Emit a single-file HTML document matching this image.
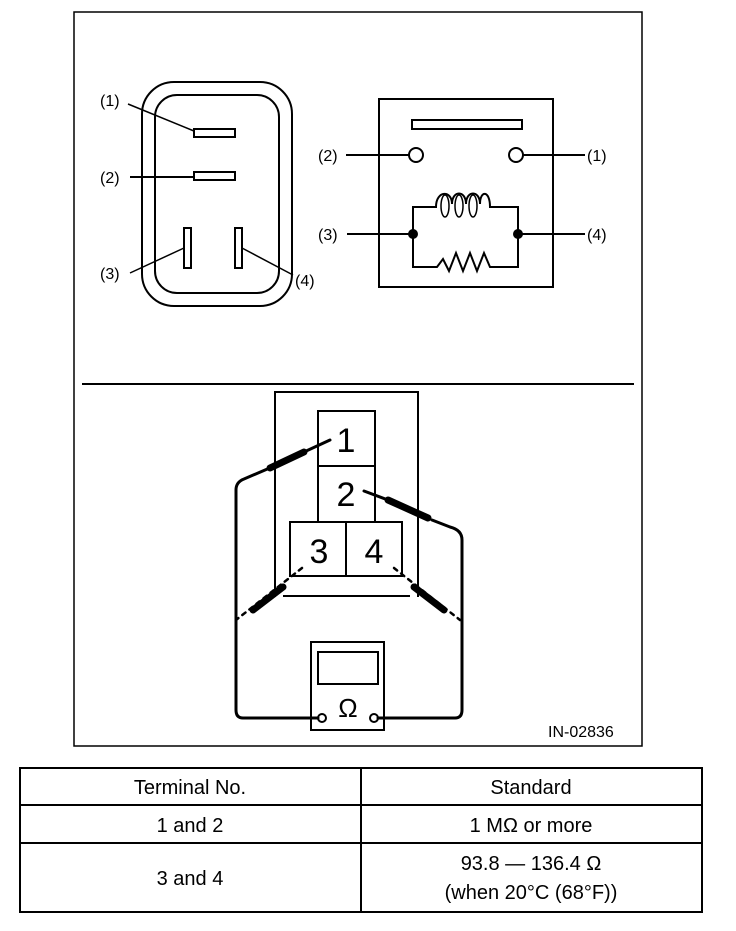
<!DOCTYPE html>
<html><head><style>
body{margin:0;background:#fff;}
svg text{font-family:"Liberation Sans",Arial,sans-serif;fill:#000;}
</style></head><body>
<svg width="736" height="926" viewBox="0 0 736 926" xmlns="http://www.w3.org/2000/svg">
<g fill="none" stroke="#000" stroke-width="2">
<rect x="74" y="12" width="568" height="734" stroke-width="1.5"/>
<line x1="82" y1="384" x2="634" y2="384"/>
<!-- connector -->
<rect x="142" y="82" width="150" height="224" rx="32"/>
<rect x="155" y="95" width="124" height="198" rx="22"/>
<rect x="194" y="129" width="41" height="8"/>
<rect x="194" y="172" width="41" height="8"/>
<rect x="184" y="228" width="7" height="40"/>
<rect x="235" y="228" width="7" height="40"/>
<line x1="128" y1="104" x2="194" y2="131" stroke-width="1.5"/>
<line x1="130" y1="177" x2="194" y2="177"/>
<line x1="130" y1="273" x2="184" y2="248" stroke-width="1.5"/>
<line x1="293" y1="275" x2="242" y2="248" stroke-width="1.5"/>
<!-- relay -->
<rect x="379" y="99" width="174" height="188"/>
<rect x="412" y="120" width="110" height="9"/>
<circle cx="416" cy="155" r="7"/>
<circle cx="516" cy="155" r="7"/>
<line x1="346" y1="155" x2="409" y2="155"/>
<line x1="523" y1="155" x2="585" y2="155"/>
<path d="M413 234 V207 H436 C436 190 452 190 452 204 C452 190 466 190 466 204 C466 190 480 190 480 204 C480 190 490 190 490 207 H518 V267 H490 L484 253 L477 271 L470 253 L463 271 L456 253 L449 271 L443 259 L437 267 H413 V234"/>
<ellipse cx="445" cy="206" rx="4" ry="11" stroke-width="1.5"/>
<ellipse cx="459" cy="206" rx="4" ry="11" stroke-width="1.5"/>
<ellipse cx="473" cy="206" rx="4" ry="11" stroke-width="1.5"/>
<line x1="347" y1="234" x2="413" y2="234"/>
<line x1="518" y1="234" x2="585" y2="234"/>
<!-- bottom -->
<polyline points="275,597 275,392 418,392 418,597"/>
<line x1="283" y1="596" x2="410" y2="596"/>
<rect x="318" y="411" width="57" height="55"/>
<rect x="318" y="466" width="57" height="56"/>
<rect x="290" y="522" width="56" height="54"/>
<rect x="346" y="522" width="56" height="54"/>
<rect x="311" y="642" width="73" height="88"/>
<rect x="318" y="652" width="60" height="32"/>
<circle cx="322" cy="718" r="4"/>
<circle cx="374" cy="718" r="4"/>
</g>
<circle cx="413" cy="234" r="5"/>
<circle cx="518" cy="234" r="5"/>
<g fill="none" stroke="#000" stroke-linecap="round">
<path d="M318 718 H243 Q236 718 236 710 V490 Q236 482 244 479 L272 467" stroke-width="3"/>
<line x1="270" y1="468" x2="304" y2="452" stroke-width="7"/>
<line x1="304" y1="452" x2="330" y2="440" stroke-width="3"/>
<path d="M378 718 H455 Q462 718 462 710 V540 Q462 530 450 527 L432 520" stroke-width="3"/>
<line x1="388" y1="500" x2="428" y2="518" stroke-width="7"/>
<line x1="364" y1="491" x2="388" y2="500" stroke-width="3"/>
<line x1="283" y1="587" x2="253" y2="610" stroke-width="7"/>
<line x1="302" y1="568" x2="236" y2="620" stroke-width="2.5" stroke-dasharray="4,5"/>
<line x1="414" y1="587" x2="444" y2="610" stroke-width="7"/>
<line x1="394" y1="568" x2="460" y2="620" stroke-width="2.5" stroke-dasharray="4,5"/>
</g>
<g font-size="16">
<text x="100" y="106">(1)</text>
<text x="100" y="183">(2)</text>
<text x="100" y="279">(3)</text>
<text x="295" y="286">(4)</text>
<text x="318" y="161">(2)</text>
<text x="587" y="161">(1)</text>
<text x="318" y="240">(3)</text>
<text x="587" y="240">(4)</text>
<text x="548" y="737">IN-02836</text>
</g>
<g font-size="34" text-anchor="middle">
<text x="346" y="452">1</text>
<text x="346" y="506">2</text>
<text x="319" y="563">3</text>
<text x="374" y="563">4</text>
<text x="348" y="717" font-size="26">Ω</text>
</g>
<g fill="none" stroke="#000" stroke-width="2">
<rect x="20" y="768" width="682" height="144"/>
<line x1="20" y1="805" x2="702" y2="805"/>
<line x1="20" y1="843" x2="702" y2="843"/>
<line x1="361" y1="768" x2="361" y2="912"/>
</g>
<g font-size="20" text-anchor="middle">
<text x="190" y="794">Terminal No.</text>
<text x="531" y="794">Standard</text>
<text x="190" y="832">1 and 2</text>
<text x="531" y="832">1 MΩ or more</text>
<text x="190" y="885">3 and 4</text>
<text x="531" y="870">93.8 — 136.4 Ω</text>
<text x="531" y="899">(when 20°C (68°F))</text>
</g>
</svg>
</body></html>
